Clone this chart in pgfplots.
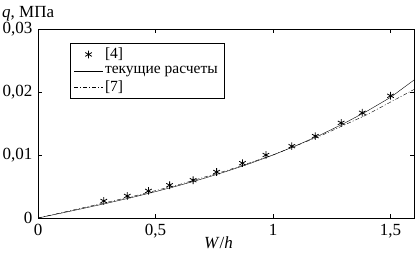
\documentclass[border=0pt]{standalone}
\usepackage{pgfplots}
\pgfplotsset{compat=1.18}
\usepackage{fontspec}
\setmainfont{Liberation Serif}
\usetikzlibrary{calc}
\begin{document}
\fontsize{16}{18}\selectfont
\begin{tikzpicture}[font=\fontsize{16}{18}\selectfont]
\begin{axis}[
  name=ax,
  scale only axis,
  width=376pt, height=189pt,
  xmin=0, xmax=1.6, ymin=0, ymax=0.03,
  xtick={0,0.5,1,1.5},
  ytick={0,0.01,0.02,0.03},
  scaled y ticks=false,
  tick align=inside,
  major tick length=4pt,
  tick style={black, thin},
  axis line style={black, thin},
  /pgf/number format/assume math mode=true,
  /pgf/number format/use comma,
  ticklabel style={font=\fontsize{17}{19}\selectfont},
  yticklabel style={/pgf/number format/fixed,/pgf/number format/precision=2, xshift=0pt},
  xticklabel style={/pgf/number format/fixed, yshift=-1pt},
  xlabel={\textit{W}/\textit{h}},
  xlabel style={at={(rel axis cs:0.48,0)}, anchor=north, yshift=-19pt, inner sep=0pt, font=\fontsize{17}{19}\selectfont},
  legend style={at={(axis description cs:0.085,0.925)}, anchor=north west, draw=black, thin,
    cells={anchor=west}, row sep=1pt, inner xsep=4pt, inner ysep=2.5pt, font=\fontsize{15.5}{17}\selectfont},
  legend image code/.code={\draw[mark repeat=2,mark phase=2,#1] plot coordinates {(0cm,0cm) (0.5cm,0cm) (1cm,0cm)};},
]
\addplot[only marks, mark=asterisk, mark size=3.8pt, black, thick] coordinates {
(0.28,0.0027) (0.38,0.0035) (0.47,0.0043) (0.56,0.0052) (0.66,0.0060)
(0.76,0.0073) (0.87,0.0087) (0.97,0.0100) (1.08,0.0114) (1.18,0.0130)
(1.29,0.0151) (1.38,0.0167) (1.50,0.0194)
};
\addlegendentry{[4]}
\addplot[black, thin, no marks] coordinates {
(0,0) (0.1,0.00078) (0.2,0.00158) (0.3,0.0024) (0.4,0.00326) (0.5,0.00418)
(0.6,0.00516) (0.7,0.00622) (0.8,0.00737) (0.9,0.00862) (1.0,0.0100)
(1.1,0.01151) (1.2,0.01316) (1.3,0.01497) (1.4,0.01696) (1.5,0.01915) (1.6,0.0219)
};
\addlegendentry{текущие расчеты}
\addplot[black, thin, dash pattern=on 4pt off 2pt on 1pt off 2pt, no marks] coordinates {
(0,0) (0.2,0.0017) (0.4,0.0034) (0.6,0.0053) (0.8,0.0075) (1.0,0.0100)
(1.2,0.0130) (1.4,0.0164) (1.6,0.0204)
};
\addlegendentry{[7]}
\end{axis}
\node[anchor=base west, inner sep=0pt, font=\fontsize{17}{19}\selectfont] at ($(ax.north west)+(-36pt,12pt)$) {\textit{q}, МПа};
\pgfresetboundingbox
\path ($(ax.south west)+(-38pt,-34pt)$) rectangle ($(ax.north east)+(3pt,29pt)$);
\end{tikzpicture}
\end{document}
